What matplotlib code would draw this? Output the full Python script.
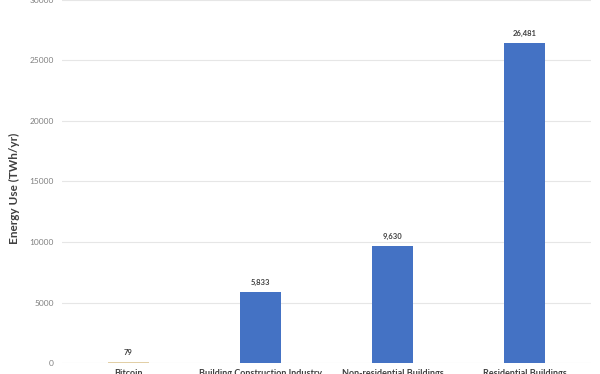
import numpy as np
import matplotlib.pyplot as plt

categories = ['Bitcoin', 'Building Construction Industry', 'Non-residential Buildings', 'Residential Buildings']
values = [79, 5833, 9630, 26481]
bar_colors = ['#E2CFA6', '#4472C4', '#4472C4', '#4472C4']
yticks = [0, 5000, 10000, 15000, 20000, 25000, 30000]

plt.rcParams['font.family'] = ['Lato', 'DejaVu Sans']

fig = plt.figure(figsize=(6, 3.74), dpi=100)
ax = fig.add_axes([62/600, 11/374, 529/600, 363/374])

x = np.arange(len(categories))
bars = ax.bar(x, values, width=0.31, color=bar_colors, zorder=3)

for xi, v in zip(x, values):
    ax.text(xi, v + 500, f'{v:,}', ha='center', va='bottom',
            fontsize=5.5, fontweight='bold', color='#404040')

ax.set_xlim(-0.5, 3.5)
ax.set_ylim(0, 30000)
ax.set_yticks(yticks)
ax.set_yticklabels([str(t) for t in yticks], fontsize=6, color='#808080')
ax.set_xticks(x)
ax.set_xticklabels(categories, fontsize=6.5, fontweight='bold', color='#404040')
ax.tick_params(axis='both', length=0)
ax.tick_params(axis='y', pad=6)
ax.tick_params(axis='x', pad=4)

ax.grid(axis='y', color='#E6E6E6', linewidth=0.8, zorder=0)
for s in ax.spines.values():
    s.set_visible(False)

ax.set_ylabel('Energy Use (TWh/yr)', fontsize=8.5, fontweight='bold', color='#404040')
ax.yaxis.set_label_coords(-0.079, 0.48)

fig.savefig('out.png', dpi=100)
